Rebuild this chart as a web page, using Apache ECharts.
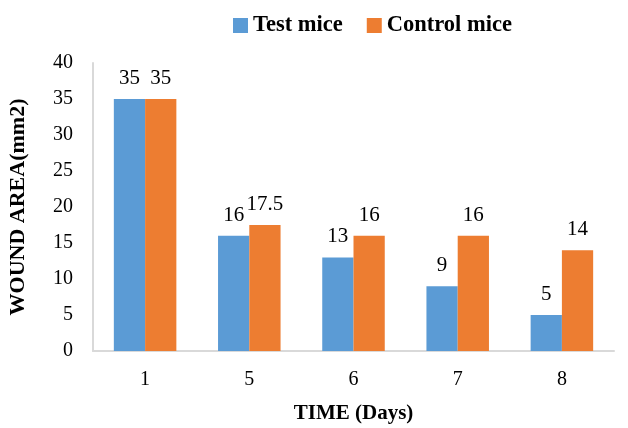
<!DOCTYPE html>
<html>
<head>
<meta charset="utf-8">
<script src="https://cdn.jsdelivr.net/npm/echarts@6/dist/echarts.min.js"></script>
<style>
  html, body { margin: 0; padding: 0; background: #fff; }
  #container { width: 628px; height: 428px; }
</style>
</head>
<body>
<div id="container"></div>
<script>
var days = ['1', '5', '6', '7', '8'];
var testMice = [35, 16, 13, 9, 5];
var controlMice = [35, 17.5, 16, 16, 14];

var serif = '"Liberation Serif", "Times New Roman", serif';
var myChart = echarts.init(document.getElementById('container'));

var option = {
    animation: false,
    color: ['#5B9BD5', '#ED7D31'],
    legend: {
        top: 9,
        left: 228,
        itemWidth: 15,
        itemHeight: 15,
        itemGap: 24,
        icon: 'rect',
        textStyle: { fontFamily: serif, fontWeight: 'bold', fontSize: 22.5, color: '#000' },
        data: ['Test mice', 'Control mice']
    },
    grid: { left: 93, right: 14, top: 63, bottom: 77, outerBoundsMode: 'none', containLabel: false },
    xAxis: {
        type: 'category',
        data: days,
        name: 'TIME (Days)',
        nameLocation: 'middle',
        nameGap: 52,
        nameTextStyle: { fontFamily: serif, fontWeight: 'bold', fontSize: 21, color: '#000' },
        axisLine: { lineStyle: { color: '#d9d9d9', width: 2 } },
        axisTick: { show: false },
        axisLabel: { fontFamily: serif, fontSize: 20, color: '#000', margin: 19 }
    },
    yAxis: {
        type: 'value',
        min: 0,
        max: 40,
        interval: 5,
        name: 'WOUND AREA(mm2)',
        nameLocation: 'middle',
        nameGap: 64,
        nameTextStyle: { fontFamily: serif, fontWeight: 'bold', fontSize: 22, color: '#000' },
        axisLine: { show: true, lineStyle: { color: '#d9d9d9', width: 2 } },
        axisTick: { show: false },
        splitLine: { show: false },
        axisLabel: { fontFamily: serif, fontSize: 20, color: '#000', margin: 20 }
    },
    series: [
        {
            name: 'Test mice',
            type: 'bar',
            data: testMice,
            barGap: '0%',
            barCategoryGap: '40%',
            label: { show: true, position: 'top', distance: 10, fontFamily: serif, fontSize: 21, color: '#000' }
        },
        {
            name: 'Control mice',
            type: 'bar',
            data: controlMice,
            label: { show: true, position: 'top', distance: 10, fontFamily: serif, fontSize: 21, color: '#000' }
        }
    ]
};

myChart.setOption(option);
</script>
</body>
</html>
